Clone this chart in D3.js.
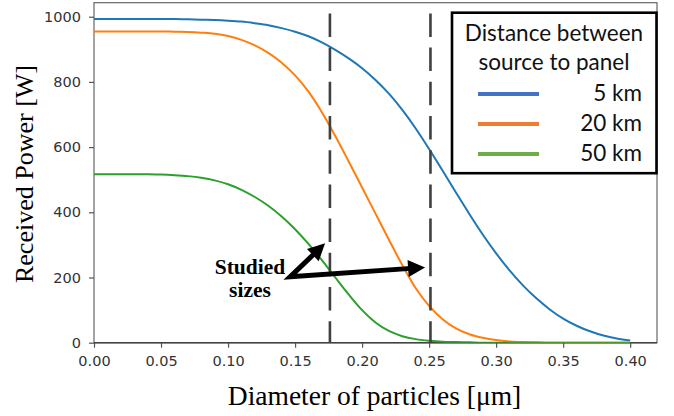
<!DOCTYPE html>
<html>
<head>
<meta charset="utf-8">
<script src="https://cdn.jsdelivr.net/npm/d3@7"></script>
<style>
  body { margin: 0; background: #fff; }
  svg { display: block; }
  .axis text { font-family: "DejaVu Sans", sans-serif; font-size: 14.5px; fill: #333; }
  .axis path, .axis line { stroke: #555; stroke-width: 1.2; }
</style>
</head>
<body>
<div id="chart"></div>
<script>
// data
const diameters = [0.00, 0.01, 0.02, 0.03, 0.04, 0.05, 0.06, 0.07, 0.08, 0.09,
                   0.10, 0.11, 0.12, 0.13, 0.14, 0.15, 0.16, 0.17, 0.18, 0.19,
                   0.20, 0.21, 0.22, 0.23, 0.24, 0.25, 0.26, 0.27, 0.28, 0.29,
                   0.30, 0.31, 0.32, 0.33, 0.34, 0.35, 0.36, 0.37, 0.38, 0.39,
                   0.40];
const power5km = [993, 993, 993, 993, 993, 993, 993, 992, 991, 990,
                  988, 985, 980, 974, 965, 954, 940, 921, 898, 872,
                  842, 806, 764, 714, 657, 594, 528, 461, 395, 332,
                  274, 222, 176, 136, 102, 74, 52, 35, 22, 13,
                  7];
const power20km = [955, 955, 955, 955, 955, 955, 954, 953, 951, 948,
                   941, 929, 912, 889, 859, 820, 770, 707, 634, 556,
                   476, 396, 316, 238, 167, 113, 72, 44, 26, 15,
                   8, 4, 2, 1, 0, 0, 0, 0, 0, 0,
                   0];
const power50km = [517, 517, 517, 517, 517, 516, 514, 511, 506, 498,
                   486, 469, 447, 420, 387, 348, 303, 253, 200, 148,
                   100, 62, 36, 20, 11, 6, 3, 2, 1, 0,
                   0, 0, 0, 0, 0, 0, 0, 0, 0, 0,
                   0];
const seriesNames = ["5 km", "20 km", "50 km"];
const xTicks = [0, 0.05, 0.10, 0.15, 0.20, 0.25, 0.30, 0.35, 0.40];
const yTicks = [0, 200, 400, 600, 800, 1000];
const studiedSizes = [0.176, 0.251];
// annotation anchor points, in data units
const arrowStart = [0.1463, 202];
const arrowTips = [[0.1724, 305], [0.247, 231]];
const annotationLines = ["Studied", "sizes"];

const width = 674,
    height = 416,
    margin = { top: 2.7, right: 17, bottom: 73.3, left: 94 };

const lineColors = ["#1f77b4", "#ff7f0e", "#2ca02c"];
const legendColors = ["#4472c4", "#ed7d31", "#70ad47"];

const svg = d3.select('#chart').append('svg')
    .attr('width', width)
    .attr('height', height)
    .style('background', '#fff');

const x = d3.scaleLinear()
    .domain([0, 0.42])
    .range([margin.left, width - margin.right]);

const y = d3.scaleLinear()
    .domain([0, 1043])
    .range([height - margin.bottom, margin.top]);

// frame
svg.append('rect')
    .attr('x', x(0))
    .attr('y', y(1043))
    .attr('width', x(0.42) - x(0))
    .attr('height', y(0) - y(1043))
    .attr('fill', 'none')
    .attr('stroke', '#666')
    .attr('stroke-width', 1.2);

svg.append('clipPath').attr('id', 'plot')
    .append('rect')
    .attr('x', x(0))
    .attr('y', y(1043))
    .attr('width', x(0.42) - x(0))
    .attr('height', y(0) - y(1043));

// axes
svg.append('g')
    .attr('class', 'axis')
    .attr('transform', 'translate(0,' + y(0) + ')')
    .call(d3.axisBottom(x).tickValues(xTicks).tickFormat(d3.format('.2f')).tickSize(5).tickPadding(8))
    .call(g => g.select('.domain').remove());

svg.append('g')
    .attr('class', 'axis')
    .attr('transform', 'translate(' + x(0) + ',0)')
    .call(d3.axisLeft(y).tickValues(yTicks).tickFormat(d3.format('d')).tickSize(5).tickPadding(8))
    .call(g => g.select('.domain').remove());

svg.append('line')
    .attr('x1', x(0)).attr('x2', x(0.42))
    .attr('y1', y(0)).attr('y2', y(0))
    .attr('stroke', '#444').attr('stroke-width', 1.4);

// curves
const series = [power5km, power20km, power50km];
const line = d3.line()
    .x((d, i) => x(diameters[i]))
    .y(d => y(d))
    .curve(d3.curveMonotoneX);

svg.append('g')
    .attr('clip-path', 'url(#plot)')
    .selectAll('path')
    .data(series)
    .enter().append('path')
    .attr('d', line)
    .attr('fill', 'none')
    .attr('stroke', (d, i) => lineColors[i])
    .attr('stroke-width', 2);

// studied sizes
svg.append('g')
    .selectAll('line')
    .data(studiedSizes)
    .enter().append('line')
    .attr('x1', d => x(d)).attr('x2', d => x(d))
    .attr('y1', y(1043)).attr('y2', y(0))
    .attr('stroke', '#404040')
    .attr('stroke-width', 2.6)
    .attr('stroke-dasharray', '23.5,10.7')
    .attr('stroke-dashoffset', 23.5);

// arrows
const start = [x(arrowStart[0]), y(arrowStart[1])];
const headLen = 17, headHalf = 8.5;
const bases = arrowTips.map(t => {
    const tip = [x(t[0]), y(t[1])];
    const dx = tip[0] - start[0], dy = tip[1] - start[1];
    const len = Math.sqrt(dx * dx + dy * dy);
    const ux = dx / len, uy = dy / len;
    const base = [tip[0] - ux * headLen, tip[1] - uy * headLen];
    return { tip, base, ux, uy };
});

svg.append('path')
    .attr('d', 'M' + (bases[0].base[0] + bases[0].ux * 3) + ',' + (bases[0].base[1] + bases[0].uy * 3) +
        'L' + start[0] + ',' + start[1] +
        'L' + (bases[1].base[0] + bases[1].ux * 3) + ',' + (bases[1].base[1] + bases[1].uy * 3))
    .attr('fill', 'none')
    .attr('stroke', '#000')
    .attr('stroke-width', 5)
    .attr('stroke-linejoin', 'miter');

svg.append('g')
    .selectAll('path')
    .data(bases)
    .enter().append('path')
    .attr('d', b => 'M' + b.tip[0] + ',' + b.tip[1] +
        'L' + (b.base[0] - b.uy * headHalf) + ',' + (b.base[1] + b.ux * headHalf) +
        'L' + (b.base[0] + b.uy * headHalf) + ',' + (b.base[1] - b.ux * headHalf) + 'Z')
    .attr('fill', '#000');

svg.append('g')
    .selectAll('text')
    .data(annotationLines)
    .enter().append('text')
    .attr('x', 250)
    .attr('y', (d, i) => 273.5 + i * 23)
    .attr('text-anchor', 'middle')
    .style('font-family', '"Liberation Serif", "Times New Roman", serif')
    .style('font-weight', 'bold')
    .style('font-size', '21.5px')
    .text(d => d);

// axis titles
svg.append('text')
    .attr('x', (x(0) + x(0.42)) / 2 - 1)
    .attr('y', 405)
    .attr('text-anchor', 'middle')
    .style('font-family', '"Liberation Serif", "Times New Roman", serif')
    .style('font-size', '27.5px')
    .text('Diameter of particles [μm]');

svg.append('text')
    .attr('transform', 'translate(33,174) rotate(-90)')
    .attr('text-anchor', 'middle')
    .style('font-family', '"Liberation Serif", "Times New Roman", serif')
    .style('font-size', '26px')
    .text('Received Power [W]');

// legend
const legend = svg.append('g');
legend.append('rect')
    .attr('x', 452).attr('y', 12.7)
    .attr('width', 204.5).attr('height', 160.5)
    .attr('fill', '#fff')
    .attr('stroke', '#000')
    .attr('stroke-width', 2.6);

legend.selectAll('text.title')
    .data(['Distance between', 'source to panel'])
    .enter().append('text')
    .attr('class', 'title')
    .attr('x', 554)
    .attr('y', (d, i) => 40.7 + i * 29.5)
    .attr('text-anchor', 'middle')
    .style('font-family', 'Lato, sans-serif')
    .style('font-size', '22.5px')
    .style('fill', '#111')
    .text(d => d);

const items = legend.selectAll('g.item')
    .data(seriesNames)
    .enter().append('g')
    .attr('class', 'item')
    .attr('transform', (d, i) => 'translate(0,' + (101 + i * 30) + ')');

items.append('line')
    .attr('x1', 478).attr('x2', 539)
    .attr('y1', -7).attr('y2', -7)
    .attr('stroke', (d, i) => legendColors[i])
    .attr('stroke-width', 4);

items.append('text')
    .attr('x', 642)
    .attr('text-anchor', 'end')
    .style('font-family', 'Lato, sans-serif')
    .style('font-size', '22.5px')
    .style('fill', '#111')
    .text(d => d);
</script>
</body>
</html>
